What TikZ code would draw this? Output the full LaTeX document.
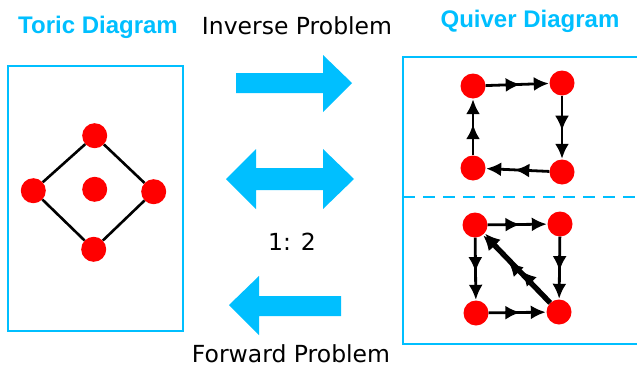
\documentclass[tikz,border=0pt]{standalone}
\usepackage{fontspec}
\setmainfont{DejaVu Sans}
\newfontfamily\titlefont{Liberation Sans}
\usetikzlibrary{arrows.meta,decorations.markings}
\definecolor{sky}{RGB}{0,191,255}
\begin{document}
\begin{tikzpicture}[x=1pt,y=-1pt,
  vert/.style={circle,fill=red,minimum size=25pt,inner sep=0pt},
  frame/.style={draw=sky,line width=2.4pt},
  toricedge/.style={line width=2.6pt},
  quiv/.style={line width=2.8pt,-{Latex[length=15pt,width=14pt]},shorten >=0.5pt,
    postaction={decorate},
    decoration={markings,mark=at position #1 with {\arrow{Latex[length=15pt,width=14pt]}}}},
  quiv/.default=0.55,
  bigarrow/.style={fill=sky},
  lbl/.style={font=\fontsize{23.5}{27}\selectfont,anchor=base,inner sep=1pt},
  ttl/.style={font=\titlefont\bfseries\fontsize{24}{28}\selectfont,text=sky,anchor=base,inner sep=1pt}]
\useasboundingbox (0,0) rectangle (637,367);
\clip (0,0) rectangle (637,367);

% titles and labels
\node[ttl] (ttoric) at (98,33) {Toric Diagram};
\node[ttl] (tquiver) at (530,27) {Quiver Diagram};
\node[lbl] (inv) at (297,34) {Inverse Problem};
\node[lbl] (ratio) at (292,250) {1: 2};
\node[lbl] (fwd) at (291,362) {Forward Problem};

% frames
\draw[frame] (8,66) rectangle (183,331);
\draw[frame] (403,57) rectangle (660,344);
\draw[sky,line width=2.2pt,dash pattern=on 12pt off 8pt] (403,197) -- (637,197);

% big arrows
\fill[bigarrow] (236,73) -- (323,73) -- (323,55) -- (352,83) -- (323,112) -- (323,93) -- (236,93) -- cycle;
\fill[bigarrow] (226,179) -- (256,149) -- (256,168) -- (323,168) -- (323,149) -- (354,179)
  -- (323,209) -- (323,190) -- (256,190) -- (256,209) -- cycle;
\fill[bigarrow] (229,305) -- (259,276) -- (259,296) -- (341,296) -- (341,316) -- (259,316) -- (259,335) -- cycle;

% toric diagram
\node[vert] (t) at (94.7,135.7) {};
\node[vert] (l) at (33.3,190.7) {};
\node[vert] (c) at (94.7,189.3) {};
\node[vert] (r) at (153.7,191.7) {};
\node[vert] (b) at (93.7,249.3) {};
\draw[toricedge] (t) -- (l) -- (b) -- (r) -- (t);

% quiver top
\node[vert] (a1) at (473,86) {};
\node[vert] (a2) at (562,83) {};
\node[vert] (a3) at (562,172) {};
\node[vert] (a4) at (473,168) {};
\draw[quiv] (a1) -- (a2);
\draw[quiv] (a2) -- (a3);
\draw[quiv] (a3) -- (a4);
\draw[quiv] (a4) -- (a1);

% quiver bottom
\node[vert] (b1) at (475,225) {};
\node[vert] (b2) at (560,224) {};
\node[vert] (b3) at (559,312) {};
\node[vert] (b4) at (476,313) {};
\draw[quiv] (b1) -- (b2);
\draw[quiv] (b2) -- (b3);
\draw[quiv] (b1) -- (b4);
\draw[quiv] (b4) -- (b3);
\draw[quiv=0.45,transform canvas={shift={(0.9pt,0.9pt)}}] (b3) -- (b1);
\draw[quiv=0.62,transform canvas={shift={(-0.9pt,-0.9pt)}}] (b3) -- (b1);
\end{tikzpicture}
\end{document}
